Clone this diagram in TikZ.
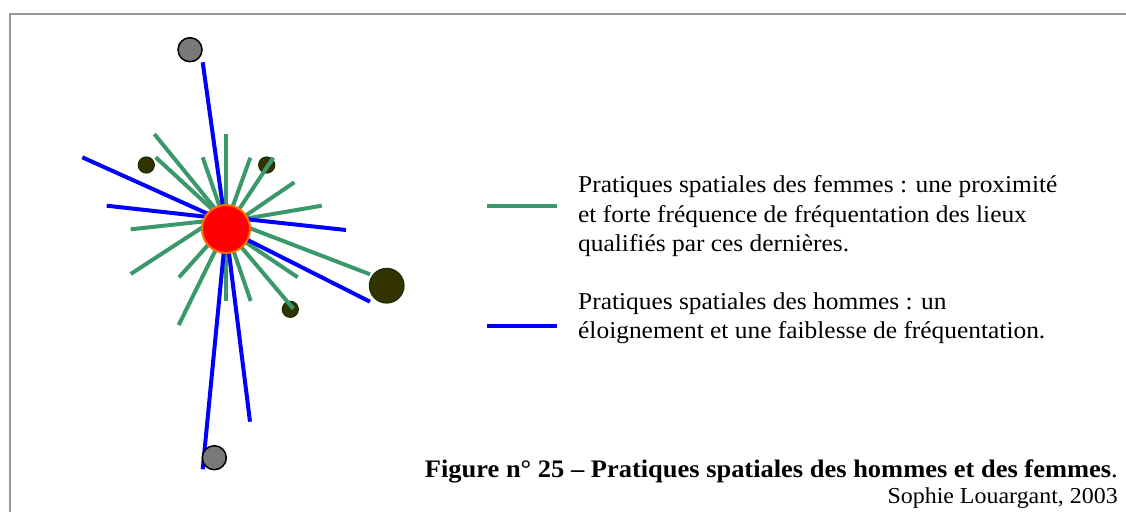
\documentclass[tikz,border=0pt]{standalone}
\usepackage{fontspec}
\setmainfont[FakeStretch=1.05]{Liberation Serif}
\definecolor{fgreen}{RGB}{58,152,106}
\definecolor{hblue}{RGB}{0,0,255}
\definecolor{darkolive}{RGB}{51,51,0}
\definecolor{darkrim}{RGB}{20,50,0}
\definecolor{framegray}{RGB}{150,150,150}
\definecolor{rimorange}{RGB}{255,110,0}
\begin{document}
\begin{tikzpicture}[x=1pt,y=-1pt,
  femme/.style={draw=fgreen,line width=4pt},
  homme/.style={draw=hblue,line width=4pt},
  lieu/.style={circle,fill=darkolive,draw=darkrim,line width=1.2pt,inner sep=0pt},
  lointain/.style={circle,fill=gray!95!black,draw=black,line width=1.5pt,inner sep=0pt,minimum size=24pt},
  legtext/.style={anchor=base west,inner sep=0pt,font=\fontsize{24.2}{29}\selectfont}]
\useasboundingbox (0,0) rectangle (1126,511);
\draw[framegray,line width=2.5pt] (10,512) -- (10,14) -- (1127,14);

% small places (under the lines)
\node[lieu,minimum size=16pt] (p1) at (146.3,165) {};
\node[lieu,minimum size=16pt] (p2) at (266.7,165) {};
\node[lieu,minimum size=16pt] (p3) at (290.3,309.3) {};

% aim points inside the centre
\coordinate (c0) at (226,229);
\coordinate (a1) at (226,222);
\coordinate (a2) at (226,225);
\coordinate (a3) at (226,219);
\coordinate (a4) at (226,217);
\coordinate (a5) at (226,212);

% green end points
\coordinate (g1) at (154.3,134);
\coordinate (g2) at (226,134);
\coordinate (g3) at (155.7,157.3);
\coordinate (g4) at (202.7,157.3);
\coordinate (g5) at (250.3,157.7);
\coordinate (g6) at (273.3,157.7);
\coordinate (g7) at (294.3,182.3);
\coordinate (g8) at (321.7,205.7);
\coordinate (g9) at (130.7,229.3);
\coordinate (g10) at (130.7,274);
\coordinate (g11) at (179,277.3);
\coordinate (g12) at (178.7,325);
\coordinate (g13) at (226,301);
\coordinate (g14) at (250.7,301);
\coordinate (g15) at (297.7,277.3);
\coordinate (g16) at (293.3,308.7);
\coordinate (g17) at (370,274.3);

% blue end points
\coordinate (b1) at (202.7,62.3);
\coordinate (b2) at (82.3,157.3);
\coordinate (b3) at (106.7,205.7);
\coordinate (b4) at (346,230);
\coordinate (b5) at (370,301.7);
\coordinate (b6) at (202.7,469.3);
\coordinate (b7) at (250,421.7);

% women's lines
\draw[femme] (a1) -- (g1);
\draw[femme] (c0) -- (g2);
\draw[femme] (a1) -- (g3);
\draw[femme] (a2) -- (g4);
\draw[femme] (a2) -- (g5);
\draw[femme] (c0) -- (g6);
\draw[femme] (c0) -- (g7);
\draw[femme] (a1) -- (g8);
\draw[femme] (a3) -- (g9);
\draw[femme] (a5) -- (g10);
\draw[femme] (a2) -- (g11);
\draw[femme] (c0) -- (g12);
\draw[femme] (c0) -- (g13);
\draw[femme] (c0) -- (g14);
\draw[femme] (c0) -- (g15);
\draw[femme] (c0) -- (g16);
\draw[femme] (a3) -- (g17);

% men's lines
\draw[homme] (c0) -- (b1);
\draw[homme] (a1) -- (b2);
\draw[homme] (a3) -- (b3);
\draw[homme] (a4) -- (b4);
\draw[homme] (c0) -- (b5);
\draw[homme] (c0) -- (b6);
\draw[homme] (c0) -- (b7);

% far places
\node[lointain] (f1) at (190,49.7) {};
\node[lointain] (f2) at (214.3,457.7) {};
\node[lieu,minimum size=34.6pt] (p4) at (386.7,285.7) {};

% centre
\node[circle,fill=red,draw=rimorange,line width=2pt,minimum size=48pt,inner sep=0pt] (ctr) at (226,229) {};

% legend
\coordinate (lg1a) at (487,206);
\coordinate (lg1b) at (557,206);
\coordinate (lg2a) at (487,325.5);
\coordinate (lg2b) at (557,325.5);
\draw[femme] (lg1a) -- (lg1b);
\draw[homme] (lg2a) -- (lg2b);

\node[legtext] (t1) at (578,192.5) {Pratiques spatiales des femmes : une proximité};
\node[legtext] (t2) at (578,222) {et forte fréquence de fréquentation des lieux};
\node[legtext] (t3) at (578,251.5) {qualifiés par ces dernières.};
\node[legtext] (t4) at (578,309) {Pratiques spatiales des hommes : un};
\node[legtext] (t5) at (578,338.5) {éloignement et une faiblesse de fréquentation.};

% caption
\node[anchor=base east,inner sep=0pt,font=\fontsize{25.2}{29}\selectfont] (cap) at (1118,477.5) {\textbf{Figure n° 25 -- Pratiques spatiales des hommes et des femmes}.};
\node[anchor=base east,inner sep=0pt,font=\fontsize{22.8}{26}\selectfont] (auth) at (1118,503.5) {Sophie Louargant, 2003};
\end{tikzpicture}
\end{document}
